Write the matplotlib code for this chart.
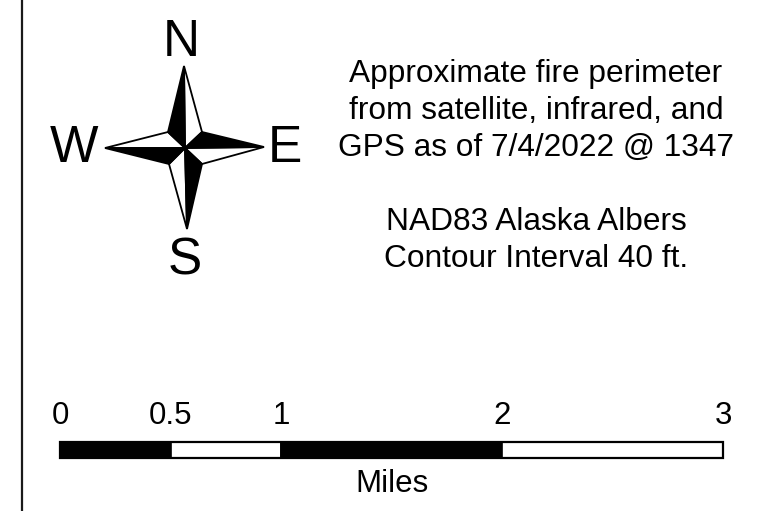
import matplotlib
matplotlib.use("Agg")
import matplotlib.pyplot as plt
from matplotlib.patches import Polygon, Rectangle

plt.rcParams['font.family'] = ['Liberation Sans', 'DejaVu Sans']

# ---- data ----
scale_ticks = [0, 0.5, 1, 2, 3]
scale_tick_labels = ["0", "0.5", "1", "2", "3"]
segment_edges = [0, 0.5, 1, 2, 3]
segment_colors = ["black", "white", "black", "white"]
scale_unit = "Miles"
compass_letters = ["N", "E", "S", "W"]
info_lines = ["Approximate fire perimeter",
              "from satellite, infrared, and",
              "GPS as of 7/4/2022 @ 1347",
              "",
              "NAD83 Alaska Albers",
              "Contour Interval 40 ft."]

W, H = 758, 511
fig = plt.figure(figsize=(W / 100, H / 100), dpi=100)
ax = fig.add_axes([0, 0, 1, 1])
ax.set_xlim(0, W)
ax.set_ylim(H, 0)
ax.axis("off")

# left frame line
ax.plot([22, 22], [0, H], color="#1a1a1a", lw=1.6, solid_capstyle="butt")

# ---- compass rose ----
C = (185, 148)
tips = {"N": (184, 66), "E": (264, 147), "S": (187, 229), "W": (105, 148)}
inner = {"NE": (202, 132), "SE": (202, 164), "SW": (169, 164), "NW": (168, 132)}
black_tris = [(C, tips["N"], inner["NW"]), (C, inner["NE"], tips["E"]),
              (C, inner["SE"], tips["S"]), (C, tips["W"], inner["SW"])]
white_tris = [(C, tips["N"], inner["NE"]), (C, tips["E"], inner["SE"]),
              (C, tips["S"], inner["SW"]), (C, tips["W"], inner["NW"])]
for t in white_tris:
    ax.add_patch(Polygon(t, closed=True, facecolor="white", edgecolor="black",
                         lw=1.3, joinstyle="miter"))
for t in black_tris:
    ax.add_patch(Polygon(t, closed=True, facecolor="black", edgecolor="black",
                         lw=1.3, joinstyle="miter"))

letter_pos = {"N": (181, 43), "E": (285, 148), "S": (185, 261), "W": (74, 148)}
for L in compass_letters:
    x, y = letter_pos[L]
    ax.text(x, y, L, ha="center", va="center", fontsize=37, color="black")

# ---- info text ----
for i, s in enumerate(info_lines):
    if s:
        ax.text(536, 74 + 37 * i, s, ha="center", va="center", fontsize=22.8)

# ---- scale bar ----
x0, px_per_mile = 60, (723 - 60) / 3.0
ytop, hbar = 442, 16
for a, b, c in zip(segment_edges[:-1], segment_edges[1:], segment_colors):
    ax.add_patch(Rectangle((x0 + a * px_per_mile, ytop), (b - a) * px_per_mile, hbar,
                           facecolor=c, edgecolor="black", lw=1.2))
ax.add_patch(Rectangle((x0, ytop), 3 * px_per_mile, hbar, facecolor="none",
                       edgecolor="black", lw=1.6))
for v, lab in zip(scale_ticks, scale_tick_labels):
    ax.text(x0 + v * px_per_mile, 416, lab, ha="center", va="center", fontsize=22.5)
ax.text(x0 + 1.5 * px_per_mile, 484, scale_unit, ha="center", va="center", fontsize=22.5)

fig.savefig("out.png", dpi=100, facecolor="white")
